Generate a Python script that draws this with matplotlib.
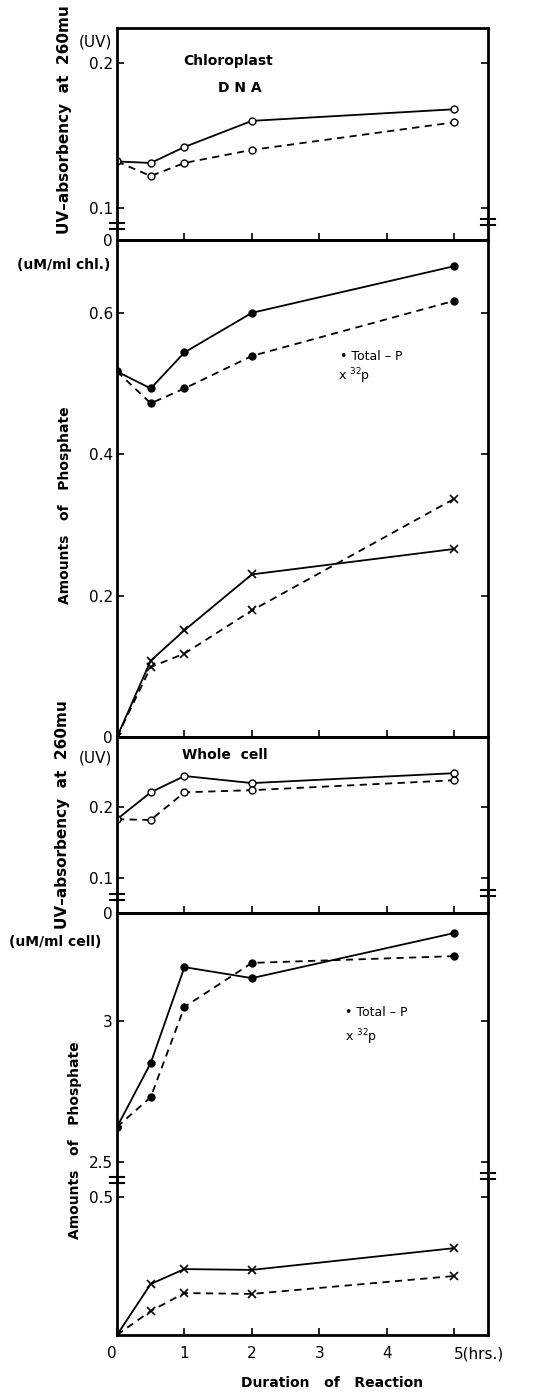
# Time course of UV absorbency and phosphate content, chloroplast DNA vs whole cell

import matplotlib.pyplot as plt
from matplotlib.lines import Line2D
import numpy as np

# sampling times (hrs.)
t = [0, 0.5, 1, 2, 5]

# chloroplast DNA, UV absorbency at 260 mu
chl_uv_a = [0.132, 0.131, 0.142, 0.160, 0.168]
chl_uv_b = [0.132, 0.122, 0.131, 0.140, 0.159]
# chloroplast, amounts of phosphate (uM/ml chl.)
chl_totp_a = [0.517, 0.493, 0.544, 0.600, 0.666]
chl_totp_b = [0.517, 0.472, 0.493, 0.539, 0.617]
chl_32p_a = [0.0, 0.108, 0.151, 0.230, 0.266]
chl_32p_b = [0.0, 0.099, 0.118, 0.179, 0.337]

# whole cell, UV absorbency at 260 mu
cell_uv_a = [0.183, 0.221, 0.244, 0.234, 0.248]
cell_uv_b = [0.183, 0.182, 0.221, 0.224, 0.238]
# whole cell, amounts of phosphate (uM/ml cell)
cell_totp_a = [2.624, 2.851, 3.191, 3.152, 3.312]
cell_totp_b = [2.624, 2.730, 3.050, 3.206, 3.230]
cell_32p_a = [0.0, 0.185, 0.239, 0.236, 0.315]
cell_32p_b = [0.0, 0.087, 0.152, 0.149, 0.214]

xticks = [0, 1, 2, 3, 4, 5]
xticklabels = ['0', '1', '2', '3', '4', '5(hrs.)']

W, H = 559, 1396
X0, X1 = 117, 488
XMAX = 5.5

plt.rcParams['font.family'] = 'DejaVu Sans'

fig = plt.figure(figsize=(W / 100, H / 100), dpi=100)


def box(y0, y1):
    # pixel rows -> figure rectangle
    return [X0 / W, 1 - y1 / H, (X1 - X0) / W, (y1 - y0) / H]


def make_ax(y0, y1, ylim, yticks, ylabels, top=True, bottom=True):
    ax = fig.add_axes(box(y0, y1))
    ax.set_xlim(0, XMAX)
    ax.set_ylim(*ylim)
    ax.set_yticks(yticks)
    ax.set_yticklabels(ylabels)
    ax.set_xticks(xticks[1:])
    ax.set_xticklabels([])
    ax.tick_params(direction='in', right=True, length=5, width=1.2,
                   labelsize=11, pad=3)
    ax.tick_params(axis='x', top=False, bottom=bottom)
    for s in ax.spines.values():
        s.set_linewidth(2)
    ax.spines['top'].set_visible(top)
    ax.spines['bottom'].set_visible(bottom)
    ax.patch.set_alpha(0)
    return ax


def breakmark(xpix, ypix):
    for dy in (-3, 3):
        fig.add_artist(Line2D([(xpix - 7) / W, (xpix + 7) / W],
                              [1 - (ypix + dy) / H] * 2,
                              color='k', lw=1.5, transform=fig.transFigure))


solid = dict(color='k', lw=1.3, ls='-')
dashed = dict(color='k', lw=1.3, ls=(0, (4, 3)))
ocirc = dict(marker='o', ms=5, mfc='white', mec='k', mew=1)
fcirc = dict(marker='o', ms=5, mfc='k', mec='k')
xmark = dict(marker='x', ms=6, mew=1.2, mec='k')

# --- chloroplast UV
ax1 = make_ax(28, 222, (0.0903, 0.224), [0.1, 0.2], ['0.1', '0.2'], bottom=False)
ax1.plot(t, chl_uv_a, **solid, **ocirc)
ax1.plot(t, chl_uv_b, **dashed, **ocirc)
ax1.text(0.30, 0.81, 'Chloroplast', transform=ax1.transAxes, ha='center',
         fontsize=10, fontweight='bold')
ax1.text(0.33, 0.67, 'D N A', transform=ax1.transAxes, ha='center',
         fontsize=10, fontweight='bold')
ax1s = make_ax(222, 240, (0, 1), [0], ['0'], top=False)

# --- chloroplast phosphate
ax2 = make_ax(240, 737, (0, 0.703), [0, 0.2, 0.4, 0.6], ['0', '0.2', '0.4', '0.6'])
ax2.plot(t, chl_totp_a, **solid, **fcirc)
ax2.plot(t, chl_totp_b, **dashed, **fcirc)
ax2.plot(t, chl_32p_a, **solid, **xmark)
ax2.plot(t, chl_32p_b, **dashed, **xmark)
fig.text(340 / W, 1 - 357 / H, '\u2022 Total \u2013 P', fontsize=9, va='center')
fig.text(338 / W, 1 - 376 / H, r'x $^{32}$p', fontsize=9, va='center')

# --- whole cell UV
ax3 = make_ax(737, 893, (0.079, 0.299), [0.1, 0.2], ['0.1', '0.2'], bottom=False)
ax3.plot(t, cell_uv_a, **solid, **ocirc)
ax3.plot(t, cell_uv_b, **dashed, **ocirc)
ax3.text(0.29, 0.86, 'Whole  cell', transform=ax3.transAxes, ha='center',
         fontsize=10, fontweight='bold')
ax3s = make_ax(893, 913, (0, 1), [0], ['0'], top=False)

# --- whole cell phosphate (broken axis)
ax4 = make_ax(913, 1180, (2.436, 3.383), [2.5, 3], ['2.5', '3'], bottom=False)
ax4.plot(t, cell_totp_a, **solid, **fcirc)
ax4.plot(t, cell_totp_b, **dashed, **fcirc)
fig.text(345 / W, 1 - 1013 / H, '\u2022 Total \u2013 P', fontsize=9, va='center')
fig.text(345 / W, 1 - 1037 / H, r'x $^{32}$p', fontsize=9, va='center')

ax5 = make_ax(1180, 1335, (0, 0.562), [0.5], ['0.5'], top=False)
ax5.plot(t, cell_32p_a, **solid, **xmark)
ax5.plot(t, cell_32p_b, **dashed, **xmark)
ax5.set_xticks(xticks)
ax5.set_xticklabels(xticklabels, fontsize=11)
ax5.tick_params(axis='x', pad=8)
lbls = ax5.get_xticklabels()
lbls[0].set_ha('right')
lbls[-1].set_ha('left')

# axis break marks
for yb in (226, 897, 1180):
    breakmark(X0, yb)
    breakmark(X1, yb - 4)

# axis titles
uv_label = 'UV\u2013absorbency  at  260mu'
fig.text(65 / W, 1 - 120 / H, uv_label, rotation=90, ha='center', va='center',
         fontsize=11, fontweight='bold')
fig.text(95 / W, 1 - 42 / H, '(UV)', ha='center', va='center', fontsize=11)
fig.text(63 / W, 1 - 815 / H, uv_label, rotation=90, ha='center', va='center',
         fontsize=11, fontweight='bold')
fig.text(95 / W, 1 - 758 / H, '(UV)', ha='center', va='center', fontsize=11)

phos_label = 'Amounts   of   Phosphate'
fig.text(65 / W, 1 - 505 / H, phos_label, rotation=90, ha='center', va='center',
         fontsize=10, fontweight='bold')
fig.text(75 / W, 1 - 1140 / H, phos_label, rotation=90, ha='center', va='center',
         fontsize=10, fontweight='bold')
fig.text(64 / W, 1 - 265 / H, '(uM/ml chl.)', ha='center', va='center',
         fontsize=10, fontweight='bold')
fig.text(55 / W, 1 - 942 / H, '(uM/ml cell)', ha='center', va='center',
         fontsize=10, fontweight='bold')

fig.text(332 / W, 1 - 1383 / H, 'Duration   of   Reaction', ha='center',
         va='center', fontsize=10, fontweight='bold')

plt.savefig('out.png', dpi=100)
